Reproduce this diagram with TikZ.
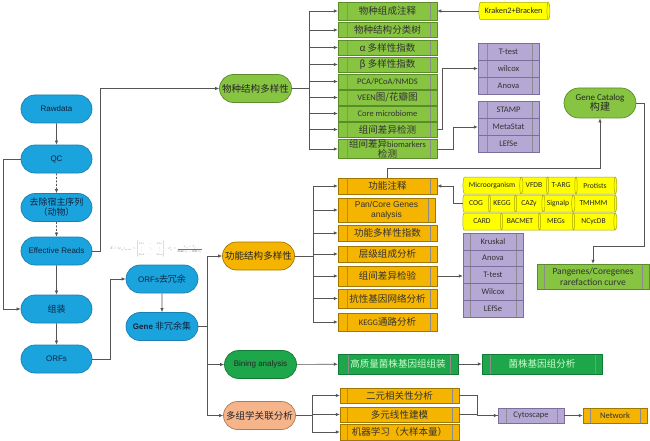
\documentclass[tikz,border=0pt]{standalone}
\usepackage{fontspec}
\usepackage{amsmath}
\usepackage{graphicx}
\setmainfont{Carlito}
\newfontfamily\cjk[Scale=1.12]{Noto Sans CJK SC}
\newfontfamily\arial{Liberation Sans}
\newcommand\zh[1]{{\cjk #1}}
\usetikzlibrary{shapes.misc,shapes.geometric,arrows.meta}
\definecolor{bluef}{HTML}{1AA3DD}
\definecolor{blued}{HTML}{1A7FB0}
\definecolor{textblue}{HTML}{10243F}
\definecolor{greenf}{HTML}{86C441}
\definecolor{greend}{HTML}{5B8C2A}
\definecolor{dgreenf}{HTML}{1DA64A}
\definecolor{dgreend}{HTML}{137A35}
\definecolor{orangef}{HTML}{F4B400}
\definecolor{oranged}{HTML}{A07800}
\definecolor{salmonf}{HTML}{F5B48A}
\definecolor{salmond}{HTML}{B07A55}
\definecolor{purplef}{HTML}{B5A8D5}
\definecolor{purpled}{HTML}{7A6E9E}
\definecolor{yellowf}{HTML}{FFFF00}
\definecolor{yellowd}{HTML}{A8A800}
\definecolor{linec}{HTML}{555555}
\tikzset{
 arr/.style={draw=linec, line width=0.6pt, -{Latex[length=4pt,width=3.4pt]}},
 ln/.style={draw=linec, line width=0.6pt},
 pill/.style={rounded rectangle, line width=0.7pt, minimum width=74pt, minimum height=28pt, inner sep=1pt, align=center, text=black!85, font=\fontsize{8.5}{10}\selectfont},
 bluep/.style={pill, fill=bluef, draw=blued, text=textblue, minimum width=73pt, font=\arial\fontsize{8}{10}\selectfont},
 barl/.store in=\barl, barr/.store in=\barr, barl=9pt, barr=7pt,
 proc/.style={rectangle, line width=0.5pt, inner sep=0pt, align=center, text=black!80, font=\fontsize{8.5}{9}\selectfont,
   path picture={\draw[line width=0.5pt, draw=black!45]
     ([xshift=\barl]path picture bounding box.north west) -- ([xshift=\barl]path picture bounding box.south west)
     ([xshift=-\barr]path picture bounding box.north east) -- ([xshift=-\barr]path picture bounding box.south east);}},
 gbox/.style={proc, fill=greenf, draw=greend, minimum width=99pt, minimum height=15pt},
 obox/.style={proc, fill=orangef, draw=oranged, minimum width=99pt, minimum height=16pt},
 pbox/.style={proc, fill=purplef, draw=purpled, font=\fontsize{8.5}{9}\selectfont},
 dbox/.style={proc, fill=dgreenf, draw=dgreend, text=green!20!white, minimum width=120pt, minimum height=20pt, barl=10pt, barr=8pt},
 cyl/.style={cylinder, draw=yellowd, fill=yellowf, aspect=0.5, inner sep=0pt, minimum width=17pt, line width=0.5pt, text=black!85, font=\fontsize{7.6}{8}\selectfont},
}
\begin{document}
\begin{tikzpicture}[x=1pt,y=-1pt]
\useasboundingbox (0,0) rectangle (650,441);
% ---------- blue pipeline
\node[bluep] (raw) at (56.5,109) {Rawdata};
\node[bluep] (qc) at (56.5,159) {QC};
\node[bluep] (host) at (56.5,207.5) {\zh{去除宿主序列}\\\zh{（动物）}};
\node[bluep] (er) at (56.5,251) {Effective Reads};
\node[bluep] (asm) at (56.5,309) {\zh{组装}};
\node[bluep] (orfs) at (56.5,359) {ORFs};
\node[bluep, minimum width=74pt] (orfr) at (162,279) {ORFs\zh{去冗余}};
\node[bluep, minimum width=74pt] (gene) at (162,326.5) {\textbf{Gene} \zh{非冗余集}};
\node[text=black!55, inner sep=0pt] (fm) at (156,249) {\scalebox{0.35}{$X=(x_{ij})_{m\times n}=\begin{bmatrix}x_{11}&\cdots&x_{1n}\\ \vdots&\ddots&\vdots\\ x_{m1}&\cdots&x_{mn}\end{bmatrix},\; x'_{ij}=\dfrac{x_{ij}-\bar{x}_j}{\max x_j-\min x_j}$}};
% ---------- species branch
\node[pill, fill=greenf, draw=greend] (spec) at (255.5,88.5) {\zh{物种结构多样性}};
\node[gbox, minimum height=18pt] (g1) at (387.5,11) {\zh{物种组成注释}};
\node[gbox] (g2) at (387.5,30) {\zh{物种结构分类树}};
\node[gbox] (g3) at (387.5,47.5) {\zh{α 多样性指数}};
\node[gbox] (g4) at (387.5,64.5) {\zh{β 多样性指数}};
\node[gbox] (g5) at (387.5,81.5) {PCA/PCoA/NMDS};
\node[gbox] (g6) at (387.5,97.5) {VEEN\zh{图/花瓣图}};
\node[gbox] (g7) at (387.5,113.5) {Core microbiome};
\node[gbox] (g8) at (387.5,129.5) {\zh{组间差异检测}};
\node[gbox, minimum height=19pt, font=\fontsize{8.5}{8.5}\selectfont] (g9) at (387.5,149) {\zh{组间差异}biomarkers\\\zh{检测}};
\node[cyl, minimum height=71pt, font=\fontsize{8.3}{9}\selectfont] (kr) at (513.5,11) {Kraken2+Bracken};
\node[pbox, minimum width=61pt, minimum height=17pt] (t1) at (508.5,51.5) {T-test};
\node[pbox, minimum width=61pt, minimum height=17pt] (t2) at (508.5,68.5) {wilcox};
\node[pbox, minimum width=61pt, minimum height=17pt] (t3) at (508.5,85.5) {Anova};
\node[pbox, minimum width=61pt, minimum height=17pt] (s1) at (508.5,110) {STAMP};
\node[pbox, minimum width=61pt, minimum height=17pt] (s2) at (508.5,127) {MetaStat};
\node[pbox, minimum width=61pt, minimum height=17pt] (s3) at (508.5,144) {LEfSe};
\node[pill, fill=greenf, draw=greend, minimum height=30pt, font=\fontsize{9}{10.5}\selectfont] (gc) at (600,103) {Gene Catalog\\\zh{构建}};
% ---------- function branch
\node[pill, fill=orangef, draw=oranged] (fun) at (258.5,256) {\zh{功能结构多样性}};
\node[obox] (o1) at (387.5,186) {\zh{功能注释}};
\node[obox, minimum width=97pt, minimum height=24pt, font=\arial\fontsize{8.5}{10}\selectfont] (o2) at (386.5,210) {Pan/Core Genes\\analysis};
\node[obox] (o3) at (387.5,233) {\zh{功能多样性指数}};
\node[obox] (o4) at (387.5,254) {\zh{层级组成分析}};
\node[obox, minimum height=20pt] (o5) at (387.5,276) {\zh{组间差异检验}};
\node[obox, minimum height=19pt] (o6) at (387.5,298.5) {\zh{抗性基因网络分析}};
\node[obox, minimum height=18pt] (o7) at (387.5,322) {KEGG\zh{通路分析}};
% database cylinders (right to left)
\node[cyl, minimum height=42pt] (prot) at (595,185.5) {Protists};
\node[cyl, minimum height=31pt] (targ) at (561,185.5) {T-ARG};
\node[cyl, minimum height=28pt] (vfdb) at (534,185.5) {VFDB};
\node[cyl, minimum height=60pt] (micro) at (492,185.5) {Microorganism};
\node[cyl, minimum height=45pt] (tmh) at (593.5,203.5) {TMHMM};
\node[cyl, minimum height=32pt] (sig) at (558,203.5) {Signalp};
\node[cyl, minimum height=30pt] (cazy) at (529,203.5) {CAZy};
\node[cyl, minimum height=28pt] (kegg) at (502,203.5) {KEGG};
\node[cyl, minimum height=28pt] (cog) at (476,203.5) {COG};
\node[cyl, minimum height=45pt] (ncyc) at (593.5,221.5) {NCycDB};
\node[cyl, minimum height=36pt] (megs) at (556,221.5) {MEGs};
\node[cyl, minimum height=40pt] (bac) at (520,221.5) {BACMET};
\node[cyl, minimum height=40pt] (card) at (482,221.5) {CARD};
% test table
\node[pbox, barl=7pt, minimum width=60pt, minimum height=16.8pt] (k1) at (493,241.5) {Kruskal};
\node[pbox, barl=7pt, minimum width=60pt, minimum height=16.8pt] (k2) at (493,258.3) {Anova};
\node[pbox, barl=7pt, minimum width=60pt, minimum height=16.8pt] (k3) at (493,275.1) {T-test};
\node[pbox, barl=7pt, minimum width=60pt, minimum height=16.8pt] (k4) at (493,291.9) {Wilcox};
\node[pbox, barl=7pt, minimum width=60pt, minimum height=16.8pt] (k5) at (493,308.7) {LEfSe};
\node[gbox, barl=7pt, minimum width=112pt, minimum height=25pt, font=\fontsize{9.5}{10.5}\selectfont] (pg) at (593,276.5) {Pangenes/Coregenes\\rarefaction curve};
% ---------- binning and multi-omics
\node[pill, fill=dgreenf, draw=dgreend, font=\arial\fontsize{8}{10}\selectfont] (bin) at (260.5,364.5) {Bining analysis};
\node[dbox] (hq) at (398,364) {\zh{高质量菌株基因组组装}};
\node[dbox, barl=8pt, barr=7pt] (st) at (542,364) {\zh{菌株基因组分析}};
\node[pill, fill=salmonf, draw=salmond] (mul) at (259.5,415.5) {\zh{多组学关联分析}};
\node[obox, barl=7pt, minimum width=119pt, minimum height=15pt] (m1) at (399.5,395.5) {\zh{二元相关性分析}};
\node[obox, barl=7pt, minimum width=119pt, minimum height=15pt] (m2) at (399.5,414.5) {\zh{多元线性建模}};
\node[obox, barl=7pt, minimum width=119pt, minimum height=16pt] (m3) at (399.5,432) {\zh{机器学习（大样本量）}};
\node[pbox, barl=8pt, minimum width=66pt, minimum height=15pt] (cy) at (531,415.5) {Cytoscape};
\node[obox, barl=7pt, minimum width=64pt, minimum height=15pt, font=\fontsize{8.5}{9}\selectfont] (nw) at (615,415.5) {Network};
% ---------- connectors
\draw[arr] (raw) -- (qc);
\draw[arr, dash pattern=on 2pt off 1.5pt] (qc) -- (host);
\draw[arr, dash pattern=on 2pt off 1.5pt] (host) -- (er);
\draw[arr] (er) -- (asm);
\draw[arr] (qc.west) -- ++(-17,0) |- (asm.west);
\draw[arr] (asm) -- (orfs);
\draw[arr] (orfs.east) -- ++(18,0) |- (orfr.west);
\draw[arr] (orfr) -- (gene);
\draw[arr] (er.east) -- ++(8,0) |- (spec.west);
\draw[ln] (gene.east) -- ++(9,0) coordinate (gt);
\draw[arr] (gt) |- (fun.west);
\draw[arr] (gt) |- (bin.west);
\draw[arr] (gt) |- (mul.west);
\draw[ln] (spec.east) -- ++(17,0) coordinate (sp);
\foreach \nn in {g1,g2,g3,g4,g5,g6,g7,g8,g9} \draw[arr] (sp) |- (\nn.west);
\draw[arr] (kr.west) -- (g1.east);
\draw[arr] (g8.east) -- ++(5,0) |- (t2.west);
\draw[arr] (g9.east) -- ++(16,0) |- (s2.west);
\draw[ln] (fun.east) -- ++(18,0) coordinate (fp);
\foreach \nn in {o1,o2,o3,o4,o5,o6,o7} \draw[arr] (fp) |- (\nn.west);
\draw[arr] (o1.north) -- ++(0,-9) -| (gc.south);
\draw[arr] (gc.east) -- ++(8,0) -- ++(0,143) -| (pg.north);
\draw[arr] (cog.west) -- ++(-9,0) |- (o1.east);
\draw[arr] (o5.east) -- (o5.east -| k3.west);
\draw[arr] (bin) -- (hq);
\draw[arr] (hq) -- (st);
\draw[ln] (mul.east) -- ++(16,0) coordinate (mp);
\foreach \nn in {m1,m2,m3} \draw[arr] (mp) |- (\nn.west);
\draw[arr] (m1.east) -- ++(18,0) |- (cy.west);
\draw[ln] (m2.east) -- ++(18,0) |- (cy.west);
\draw[arr] (cy) -- (nw);
\end{tikzpicture}
\end{document}
